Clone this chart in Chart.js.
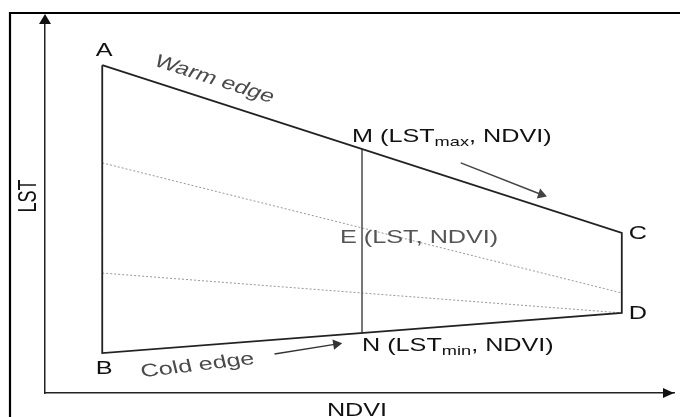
<!DOCTYPE html>
<html>
<head>
<meta charset="utf-8">
<script src="https://cdn.jsdelivr.net/npm/chart.js@4.4.0/dist/chart.umd.min.js"></script>
<style>
  body { margin: 0; background: #fff; }
  canvas { display: block; }
</style>
</head>
<body>
<canvas id="lst-chart" width="680" height="417"></canvas>
<script>
// points of the LST / NDVI space (relative units, 0-100 on both axes)
const pointNames = ['A', 'B', 'C', 'D', 'M', 'N', 'E'];
const pointNdvi = [9.1, 9.1, 91.7, 91.7, 50.4, 50.4, 50.4];
const pointLst = [87.2, 10.6, 42.6, 21.3, 64.9, 16.0, 41.5];
// text next to the points, _xxx = subscript
const pointLabels = ['A', 'B', 'C', 'D', 'M (LST_max, NDVI)', 'N (LST_min, NDVI)', 'E (LST, NDVI)'];

// dotted lines between the edges
const isoNdvi = [9.1, 91.7];
const isoUpperLst = [61.2, 26.6];
const isoLowerLst = [31.9, 21.3];

// arrows along the edges
const warmArrowNdvi = [66.1, 78.9];
const warmArrowLst = [61.2, 52.8];
const coldArrowNdvi = [36.5, 46.3];
const coldArrowLst = [10.4, 13.0];

const axisTitles = ['NDVI', 'LST'];
const edgeTitles = ['Warm edge', 'Cold edge'];

function pt(name) {
    const i = pointNames.indexOf(name);
    return { x: pointNdvi[i], y: pointLst[i] };
}
function pairs(xs, ys) {
    return xs.map((x, i) => ({ x: x, y: ys[i] }));
}

const STRETCH = 1.4;
const FONT = '"Liberation Sans", Arial, sans-serif';

function drawText(ctx, text, x, y, align, angle, color) {
    const parts = text.split(/_(\w+)/);
    ctx.save();
    ctx.translate(x, y);
    ctx.scale(STRETCH, 1);
    ctx.rotate(angle || 0);
    ctx.fillStyle = color;
    ctx.textAlign = 'left';
    ctx.textBaseline = 'alphabetic';
    let w = 0;
    parts.forEach((p, i) => {
        ctx.font = (i % 2 ? '13px ' : '18px ') + FONT;
        w += ctx.measureText(p).width;
    });
    let cx = align === 'center' ? -w / 2 : 0;
    parts.forEach((p, i) => {
        ctx.font = (i % 2 ? '13px ' : '18px ') + FONT;
        ctx.fillText(p, cx, i % 2 ? 10.5 : 6.5);
        cx += ctx.measureText(p).width;
    });
    ctx.restore();
}

const labelOffsets = {
    A: [2, -16, 'center'], B: [2, 14, 'center'], C: [16, 0, 'center'], D: [16, 0, 'center'],
    M: [-10, -13, 'left'], N: [0, 12, 'left'], E: [-22, 0, 'left']
};

const diagramPlugin = {
    id: 'diagram',
    beforeDraw(chart) {
        const ctx = chart.ctx;
        ctx.save();
        ctx.fillStyle = '#fff';
        ctx.fillRect(0, 0, chart.width, chart.height);
        // outer frame
        ctx.strokeStyle = '#000';
        ctx.lineWidth = 2.2;
        ctx.beginPath();
        ctx.moveTo(10, chart.height);
        ctx.lineTo(10, 13);
        ctx.lineTo(chart.width, 13);
        ctx.stroke();
        ctx.restore();
    },
    afterDraw(chart) {
        const ctx = chart.ctx;
        const xs = chart.scales.x, ys = chart.scales.y;
        const area = chart.chartArea;

        // axis arrow heads
        ctx.save();
        ctx.fillStyle = '#111';
        ctx.beginPath();
        ctx.moveTo(area.left, area.top - 3);
        ctx.lineTo(area.left - 6, area.top + 7);
        ctx.lineTo(area.left + 6, area.top + 7);
        ctx.closePath();
        ctx.fill();
        ctx.beginPath();
        ctx.moveTo(area.right, area.bottom);
        ctx.lineTo(area.right - 11, area.bottom - 5);
        ctx.lineTo(area.right - 11, area.bottom + 5);
        ctx.closePath();
        ctx.fill();
        ctx.restore();

        // point labels
        pointNames.forEach((name, i) => {
            const o = labelOffsets[name];
            const px = xs.getPixelForValue(pointNdvi[i]) + o[0];
            const py = ys.getPixelForValue(pointLst[i]) + o[1];
            drawText(ctx, pointLabels[i], px, py, o[2], 0, name === 'E' ? '#555' : '#111');
        });

        // edge names
        const a = pt('A'), b = pt('B');
        drawText(ctx, edgeTitles[0], xs.getPixelForValue(a.x) + 113, ys.getPixelForValue(a.y) + 13,
            'center', Math.atan(0.32 * STRETCH), '#4a4a4a');
        drawText(ctx, edgeTitles[1], xs.getPixelForValue(b.x) + 95, ys.getPixelForValue(b.y) + 11,
            'center', Math.atan(-0.12 * STRETCH), '#4a4a4a');

        // axis titles
        drawText(ctx, axisTitles[0], area.left + 312, area.bottom + 16, 'center', 0, '#111');
        drawText(ctx, axisTitles[1], area.left - 18, 196, 'center', -Math.PI / 2, '#111');
    }
};

const line = (data, color, width, extra) => Object.assign({
    data: data,
    showLine: true,
    borderColor: color,
    borderWidth: width,
    pointRadius: 0,
    tension: 0
}, extra || {});

new Chart(document.getElementById('lst-chart'), {
    type: 'scatter',
    data: {
        datasets: [
            line([pt('A'), pt('C'), pt('D'), pt('B'), pt('A')], '#222', 1.8),
            line([pt('M'), pt('N')], '#555', 1.6),
            line(pairs(isoNdvi, isoUpperLst), '#999', 1, { borderDash: [2, 2] }),
            line(pairs(isoNdvi, isoLowerLst), '#999', 1, { borderDash: [2, 2] }),
            line(pairs(warmArrowNdvi, warmArrowLst), '#444', 1.5, {
                pointStyle: 'triangle', pointRadius: [0, 6], pointRotation: [0, 109],
                pointBackgroundColor: '#444', pointBorderColor: '#444', pointBorderWidth: 0
            }),
            line(pairs(coldArrowNdvi, coldArrowLst), '#333', 1.5, {
                pointStyle: 'triangle', pointRadius: [0, 6], pointRotation: [0, 81],
                pointBackgroundColor: '#333', pointBorderColor: '#333', pointBorderWidth: 0
            })
        ]
    },
    options: {
        responsive: false,
        animation: false,
        events: [],
        layout: { padding: { left: 45, top: 17, right: 0, bottom: 24 } },
        plugins: { legend: { display: false }, tooltip: { enabled: false } },
        scales: {
            x: {
                type: 'linear', min: 0, max: 100,
                grid: { display: false, drawTicks: false },
                ticks: { display: false },
                border: { display: true, color: '#222', width: 1.5 }
            },
            y: {
                type: 'linear', min: 0, max: 100,
                grid: { display: false, drawTicks: false },
                ticks: { display: false },
                border: { display: true, color: '#222', width: 1.5 }
            }
        }
    },
    plugins: [diagramPlugin]
});
</script>
</body>
</html>
